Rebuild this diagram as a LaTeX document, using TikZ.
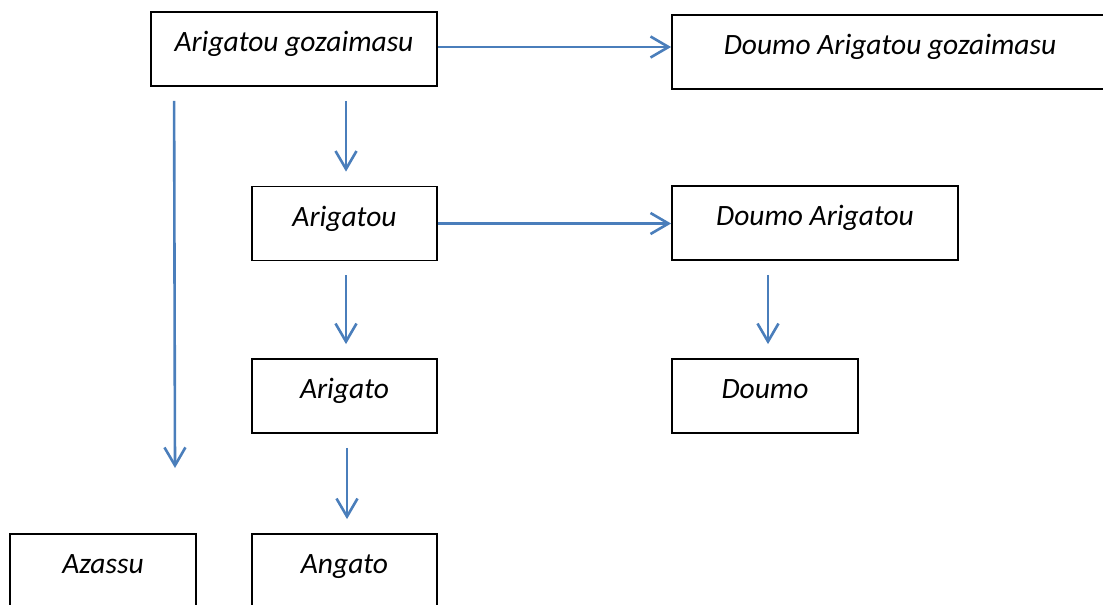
\documentclass[tikz,border=0pt]{standalone}
\usepackage{fontspec}
\setmainfont{Carlito}
\usetikzlibrary{arrows.meta,calc}
\definecolor{arrblue}{HTML}{4A7EBB}
\begin{document}
\begin{tikzpicture}[x=1pt,y=-1pt,
  box/.style={draw=black,line width=1.8pt,rectangle,minimum height=74pt,inner sep=0pt,
    font=\fontsize{29.5}{34}\selectfont\itshape,text height=19pt,text depth=14pt},
  arr/.style={draw=arrblue,line width=2.6pt,-{Straight Barb[length=18pt,width=21pt]}}]
\useasboundingbox (0,0) rectangle (1103,605);
\node[box,minimum width=286pt] (A) at (294,49) {Arigatou gozaimasu};
\node[box,minimum width=436pt] (B) at (890,52) {Doumo Arigatou gozaimasu};
\node[box,minimum width=185pt] (C) at (344.5,223.5) {Arigatou};
\node[box,minimum width=286pt] (D) at (815,223) {Doumo Arigatou};
\node[box,minimum width=185pt] (E) at (344.5,396) {Arigato};
\node[box,minimum width=186pt] (F) at (765,396) {Doumo};
\node[box,minimum width=186pt] (G) at (103,571) {Azassu};
\node[box,minimum width=185pt] (H) at (344.5,571) {Angato};
\coordinate (Z) at (175,468);
\draw[arr] ($(A.east)+(0,-2)$) -- ($(A.east -| B.west)+(0,-2)$);
\draw[arr] (C.east) -- (C.east -| D.west);
\draw[arr] ($(A.south -| C.north)+(1.5,14)$) -- ($(C.north)+(1.5,-14)$);
\draw[arr] ($(C.south)+(1.5,14)$) -- ($(E.north)+(1.5,-14)$);
\draw[arr] ($(E.south)+(2.5,14)$) -- ($(H.north)+(2.5,-14)$);
\draw[arr] ($(D.south -| F.north)+(3,14)$) -- ($(F.north)+(3,-14)$);
\draw[arr] ($(A.south west)+(24,14)$) -- (Z);
\end{tikzpicture}
\end{document}
